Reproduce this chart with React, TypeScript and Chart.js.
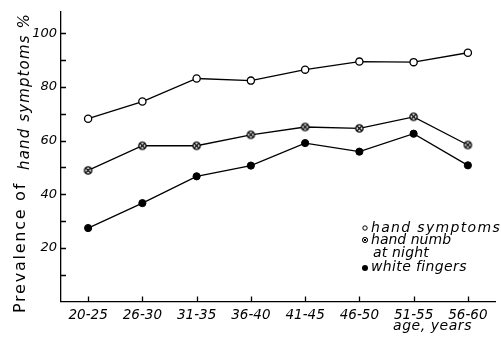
import React, { useEffect, useRef } from "react";
import { Chart, registerables } from "chart.js";

Chart.register(...registerables);

const categories = ["20-25", "26-30", "31-35", "36-40", "41-45", "46-50", "51-55", "56-60"];
const handSymptoms = [68.2, 74.6, 83.2, 82.4, 86.5, 89.5, 89.3, 92.8];
const handNumb = [48.9, 58.1, 58.1, 62.2, 65.1, 64.6, 68.9, 58.4];
const whiteFingers = [27.4, 36.7, 46.7, 50.7, 59.1, 55.9, 62.6, 50.8];
const yLabelValues = [20, 40, 60, 80, 100];
const yTickValues = [10, 20, 30, 40, 50, 60, 70, 80, 90, 100];
const legendLines = ["hand symptoms", "hand numb", "at night", "white fingers"];
const yTitleUpright = "Prevalence of";
const yTitleItalic = "hand symptoms %";
const xTitle = "age, years";

const FONT = "'DejaVu Sans', sans-serif";

function makeCrossCircle(r: number): HTMLCanvasElement {
  const c = document.createElement("canvas");
  const s = Math.ceil(r * 2 + 3);
  c.width = s;
  c.height = s;
  const g = c.getContext("2d")!;
  const m = s / 2;
  g.fillStyle = "#fff";
  g.strokeStyle = "#000";
  g.lineWidth = 1.4;
  g.beginPath();
  g.arc(m, m, r, 0, Math.PI * 2);
  g.fill();
  g.stroke();
  const d = r * 0.62;
  g.lineWidth = 1.3;
  g.beginPath();
  g.moveTo(m - d, m - d);
  g.lineTo(m + d, m + d);
  g.moveTo(m + d, m - d);
  g.lineTo(m - d, m + d);
  g.stroke();
  return c;
}

function fitText(ctx: CanvasRenderingContext2D, text: string, target: number) {
  (ctx as any).letterSpacing = "0px";
  const w = ctx.measureText(text).width;
  const sp = Math.max(0, (target - w) / Math.max(1, text.length));
  (ctx as any).letterSpacing = sp.toFixed(2) + "px";
}

const decor = {
  id: "decor",
  afterDraw(chart: any) {
    const ctx: CanvasRenderingContext2D = chart.ctx;
    const xs = chart.scales.x;
    const ys = chart.scales.y;
    const ca = chart.chartArea;
    ctx.save();
    ctx.strokeStyle = "#000";
    ctx.fillStyle = "#000";
    ctx.lineWidth = 1.3;
    // inward ticks
    ctx.beginPath();
    for (const v of yTickValues) {
      const y = Math.round(ys.getPixelForValue(v)) + 0.5;
      ctx.moveTo(ca.left, y);
      ctx.lineTo(ca.left + 5, y);
    }
    for (let i = 0; i < categories.length; i++) {
      const x = Math.round(xs.getPixelForValue(i)) + 0.5;
      ctx.moveTo(x, ca.bottom);
      ctx.lineTo(x, ca.bottom - 5);
    }
    ctx.stroke();

    // y title
    ctx.textAlign = "left";
    ctx.textBaseline = "alphabetic";
    ctx.save();
    ctx.translate(25, 313);
    ctx.rotate(-Math.PI / 2);
    ctx.font = `16px ${FONT}`;
    fitText(ctx, yTitleUpright, 131);
    ctx.fillText(yTitleUpright, 0, 0);
    ctx.restore();
    ctx.save();
    ctx.translate(29, 170);
    ctx.rotate(-Math.PI / 2);
    ctx.font = `italic 15px ${FONT}`;
    fitText(ctx, yTitleItalic, 157);
    ctx.fillText(yTitleItalic, 0, 0);
    ctx.restore();

    // x title
    ctx.font = `italic 14px ${FONT}`;
    fitText(ctx, xTitle, 79);
    ctx.fillText(xTitle, 393, 330);

    // legend
    const lx = 365;
    const base = [232, 244, 257, 271];
    const tx = [371, 371, 373, 371];
    const targets = [130, 80, 56, 96];
    ctx.font = `italic 14px ${FONT}`;
    for (let i = 0; i < legendLines.length; i++) {
      fitText(ctx, legendLines[i], targets[i]);
      ctx.fillText(legendLines[i], tx[i], base[i]);
    }
    (ctx as any).letterSpacing = "0px";
    ctx.lineWidth = 1;
    // open circle
    ctx.beginPath();
    ctx.arc(lx, 228, 2.2, 0, Math.PI * 2);
    ctx.stroke();
    // crossed circle
    ctx.beginPath();
    ctx.arc(lx, 240, 2.6, 0, Math.PI * 2);
    ctx.stroke();
    ctx.beginPath();
    ctx.moveTo(lx - 1.6, 238.4);
    ctx.lineTo(lx + 1.6, 241.6);
    ctx.moveTo(lx + 1.6, 238.4);
    ctx.lineTo(lx - 1.6, 241.6);
    ctx.stroke();
    // filled
    ctx.beginPath();
    ctx.arc(lx, 268, 3, 0, Math.PI * 2);
    ctx.fill();
    ctx.restore();
  },
};

export default function App() {
  const ref = useRef<HTMLCanvasElement>(null);
  useEffect(() => {
    document.body.style.margin = "0";
    const cross = makeCrossCircle(3.6);
    const chart = new Chart(ref.current!, {
      type: "line",
      data: {
        labels: categories,
        datasets: [
          {
            label: "hand symptoms",
            data: handSymptoms,
            borderColor: "#000",
            borderWidth: 1.3,
            pointRadius: 3.6,
            pointBorderWidth: 1.3,
            pointBackgroundColor: "#fff",
            pointBorderColor: "#000",
            tension: 0,
          },
          {
            label: "hand numb at night",
            data: handNumb,
            borderColor: "#000",
            borderWidth: 1.3,
            pointStyle: cross as any,
            pointRadius: 3.6,
            tension: 0,
          },
          {
            label: "white fingers",
            data: whiteFingers,
            borderColor: "#000",
            borderWidth: 1.3,
            pointRadius: 3.6,
            pointBorderWidth: 1,
            pointBackgroundColor: "#000",
            pointBorderColor: "#000",
            tension: 0,
          },
        ],
      },
      options: {
        responsive: false,
        animation: false,
        layout: { padding: { top: 12, right: 6, left: 0, bottom: 0 } },
        plugins: { legend: { display: false }, tooltip: { enabled: false } },
        scales: {
          x: {
            type: "category",
            offset: true,
            grid: { display: false, drawTicks: false },
            border: { display: true, color: "#000", width: 1.3 },
            ticks: {
              color: "#000",
              padding: 6,
              maxRotation: 0,
              autoSkip: false,
              font: { family: FONT, size: 13.5, style: "italic" },
            },
            afterFit: (s: any) => {
              s.height = 35.5;
            },
          },
          y: {
            min: 0,
            max: 108,
            grid: { display: false, drawTicks: false },
            border: { display: true, color: "#000", width: 1.3 },
            afterBuildTicks: (s: any) => {
              s.ticks = yLabelValues.map((v) => ({ value: v }));
            },
            ticks: {
              color: "#000",
              padding: 4,
              font: { family: FONT, size: 13, style: "italic" },
            },
            afterFit: (s: any) => {
              s.width = 61;
            },
          },
        },
      },
      plugins: [decor],
    });
    return () => chart.destroy();
  }, []);
  return (
    <div style={{ position: "absolute", left: 0, top: 0, width: 501, height: 337 }}>
      <canvas ref={ref} width={501} height={337} style={{ display: "block" }} />
    </div>
  );
}
